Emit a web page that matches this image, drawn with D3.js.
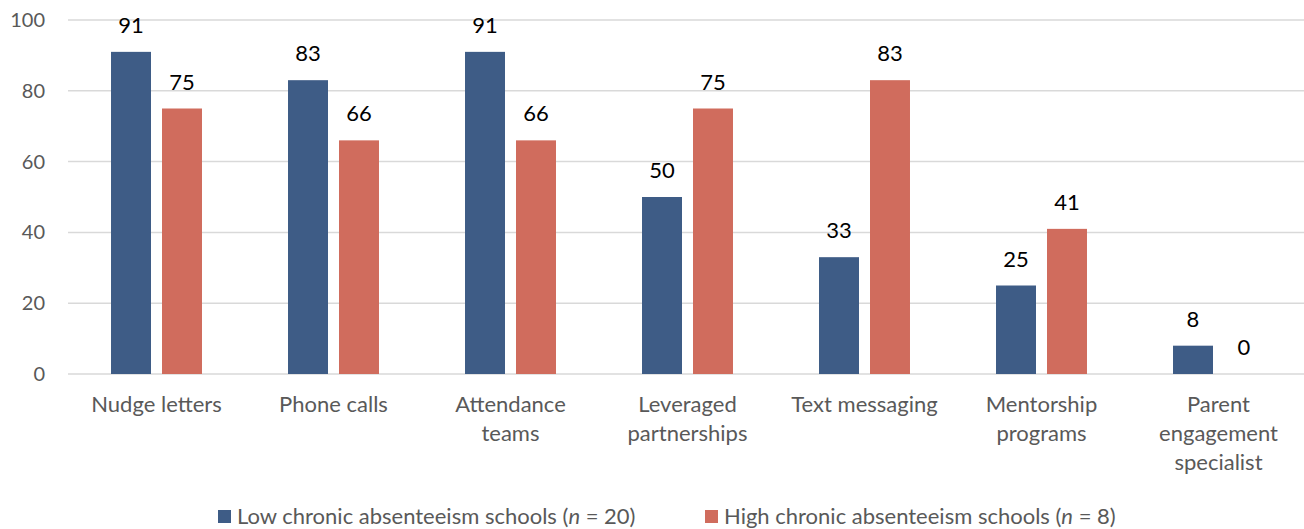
<!DOCTYPE html>
<html>
<head>
<meta charset="utf-8">
<script src="https://cdn.jsdelivr.net/npm/d3@7"></script>
<style>
  html, body { margin: 0; padding: 0; background: #fff; }
  svg { display: block; font-family: "Lato", "Open Sans", sans-serif; }
</style>
</head>
<body>
<svg id="chart" width="1304" height="529"></svg>
<script>
// Strategies used, percent of schools
const categories = [
  ["Nudge letters"],
  ["Phone calls"],
  ["Attendance", "teams"],
  ["Leveraged", "partnerships"],
  ["Text messaging"],
  ["Mentorship", "programs"],
  ["Parent", "engagement", "specialist"]
];
const seriesNames = [
  "Low chronic absenteeism schools",
  "High chronic absenteeism schools"
];
const seriesN = [20, 8];
const lowValues  = [91, 83, 91, 50, 33, 25, 8];
const highValues = [75, 66, 66, 75, 83, 41, 0];
const yTicks = [0, 20, 40, 60, 80, 100];
const colors = ["#3e5c86", "#d06c5d"];

const svg = d3.select("#chart");
const plotLeft = 68, plotRight = 1307, plotTop = 20, plotBottom = 374;

const x0 = d3.scaleBand()
  .domain(d3.range(categories.length))
  .range([plotLeft, plotRight])
  .paddingInner(0.486)
  .paddingOuter(0.243);

const x1 = d3.scaleBand()
  .domain([0, 1])
  .range([0, x0.bandwidth()])
  .paddingInner(0.2157);

const y = d3.scaleLinear().domain([0, 100]).range([plotBottom, plotTop]);

// gridlines
svg.append("g")
  .selectAll("line")
  .data(yTicks)
  .join("line")
  .attr("x1", plotLeft).attr("x2", 1304)
  .attr("y1", d => y(d)).attr("y2", d => y(d))
  .attr("stroke", "#d9d9d9").attr("stroke-width", 1.5);

// y axis labels
const yAxis = d3.axisLeft(y).tickValues(yTicks).tickSize(0).tickPadding(0);
const gy = svg.append("g").attr("transform", `translate(${plotLeft - 23},0)`).call(yAxis);
gy.select(".domain").remove();
gy.selectAll("text")
  .attr("font-size", 20).attr("fill", "#595959")
  .attr("font-family", "Lato, sans-serif");

// bars
const rows = categories.map((c, i) => [lowValues[i], highValues[i]]);
const groups = svg.append("g")
  .selectAll("g")
  .data(rows)
  .join("g")
  .attr("transform", (d, i) => `translate(${x0(i)},0)`);

groups.selectAll("rect")
  .data(d => d.map((v, s) => ({v, s})))
  .join("rect")
  .attr("x", d => x1(d.s))
  .attr("width", x1.bandwidth())
  .attr("y", d => y(d.v))
  .attr("height", d => y(0) - y(d.v))
  .attr("fill", d => colors[d.s]);

groups.selectAll("text")
  .data(d => d.map((v, s) => ({v, s})))
  .join("text")
  .attr("x", d => x1(d.s) + x1.bandwidth() / 2)
  .attr("y", d => y(d.v) - 19)
  .attr("text-anchor", "middle")
  .attr("font-size", 22)
  .attr("fill", "#000")
  .text(d => d.v);

// category labels
const cat = svg.append("g");
categories.forEach((lines, i) => {
  const t = cat.append("text")
    .attr("x", x0(i) + x0.bandwidth() / 2)
    .attr("y", 412)
    .attr("text-anchor", "middle")
    .attr("font-size", 22)
    .attr("fill", "#595959");
  lines.forEach((ln, k) => {
    t.append("tspan")
      .attr("x", x0(i) + x0.bandwidth() / 2)
      .attr("dy", k === 0 ? 0 : 29)
      .text(ln);
  });
});

// legend
const legendX = [218, 705];
const legend = svg.append("g");
seriesNames.forEach((name, s) => {
  legend.append("rect")
    .attr("x", legendX[s]).attr("y", 510)
    .attr("width", 13).attr("height", 13)
    .attr("fill", colors[s]);
  const t = legend.append("text")
    .attr("x", legendX[s] + 19).attr("y", 524)
    .attr("font-size", 22).attr("fill", "#595959");
  t.append("tspan").text(name + " (");
  t.append("tspan").attr("font-style", "italic").text("n");
  t.append("tspan").text(" = " + seriesN[s] + ")");
});
</script>
</body>
</html>
